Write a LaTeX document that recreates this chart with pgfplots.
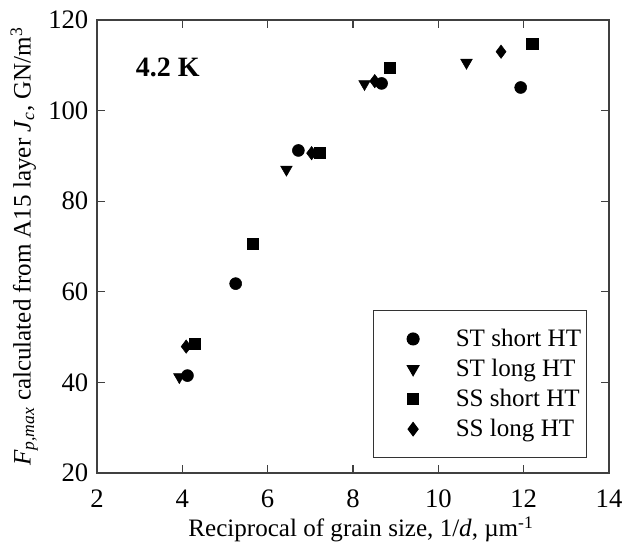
\documentclass[border=0pt]{standalone}
\usepackage{fontspec}
\setmainfont{Liberation Serif}
\usepackage{pgfplots}
\pgfplotsset{compat=1.18}

\begin{document}
\begin{tikzpicture}
\useasboundingbox (-72.75pt,-56.25pt) rectangle (399pt,354.75pt);
\begin{axis}[
    at={(0pt,0pt)}, anchor=south west,
    scale only axis,
    width=384pt, height=339.75pt,
    xmin=2, xmax=14, ymin=20, ymax=120,
    xtick={2,4,...,14}, ytick={20,40,...,120},
    tick align=inside,
    major tick length=6pt,
    axis line style={black!75, line width=0.8pt},
    tick style={black!75, line width=0.8pt},
    /pgf/number format/assume math mode=true,
    tick label style={font=\fontsize{20}{22}\selectfont},
    xticklabel shift=9pt,
    yticklabel shift=3pt,
    label style={font=\fontsize{18.8}{22}\selectfont},
    xlabel={Reciprocal of grain size, 1/\textit{d}, µm\textsuperscript{-1}},
    ylabel={\textit{F}\textsubscript{\textit{p,max}} calculated from A15 layer \textit{J}\textsubscript{\textit{c}}, GN/m\textsuperscript{3}},
    xlabel style={at={(axis description cs:0.5,0)}, anchor=base, yshift=-48pt, xshift=6pt},
    ylabel style={yshift=1pt},
    legend style={at={(0.957,0.033)}, anchor=south east,
        draw=black!80, line width=0.8pt,
        font=\fontsize{18.8}{22}\selectfont,
        row sep=4pt, inner xsep=2pt, inner ysep=12pt},
    legend cell align=left,
    legend image code/.code={
        \path[draw=none, fill=none] (-28pt,0pt) -- (30pt,0pt);
        \draw[#1, draw=none] plot coordinates {(0pt,0pt)};},
]
    \addplot[only marks, mark=*, mark size=4.5pt, black] coordinates {
        (4.12,41.5) (5.25,61.8) (6.72,91.2) (8.67,106.0) (11.93,105.1)
    };
    \addlegendentry{ST short HT}
    \addplot[only marks, mark=triangle*, mark size=5pt, black, mark options={rotate=180}] coordinates {
        (3.93,41.2) (6.44,87.0) (8.27,105.9) (10.66,110.6)
    };
    \addlegendentry{ST long HT}
    \addplot[only marks, mark=square*, mark size=4.2pt, black] coordinates {
        (4.30,48.6) (5.66,70.6) (7.23,90.7) (8.87,109.4) (12.20,114.7)
    };
    \addlegendentry{SS short HT}
    \addplot[only marks, mark=diamond*, mark size=5pt, black] coordinates {
        (4.09,47.9) (7.03,90.6) (8.51,106.5) (11.47,113.0)
    };
    \addlegendentry{SS long HT}
    \node[anchor=west, font=\bfseries\fontsize{21}{24}\selectfont] at (axis cs:2.8,109.6) {4.2 K};
\end{axis}
\end{tikzpicture}
\end{document}
